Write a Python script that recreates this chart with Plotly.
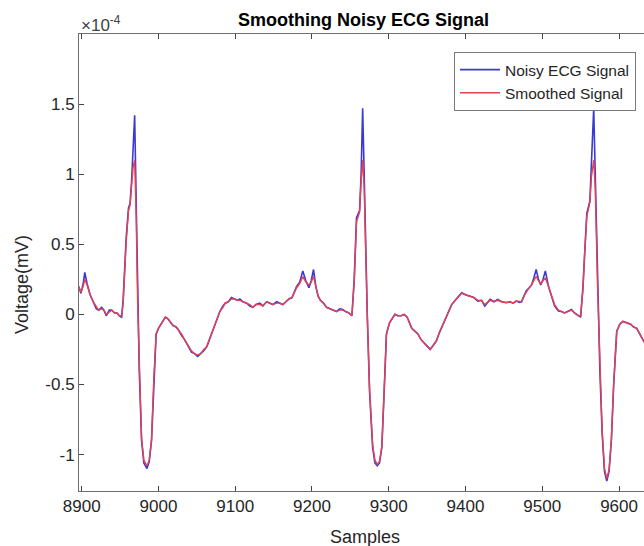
import plotly.graph_objects as go

# Samples (x) and voltages in units of 1e-4 mV
samples = [8896, 8899, 8902, 8904, 8907, 8911, 8915, 8919, 8922, 8926, 8929, 8932, 8936, 8939, 8943, 8946, 8949, 8952,
           8954, 8956, 8958, 8961, 8963, 8965, 8967, 8969, 8971, 8973, 8975, 8978, 8981, 8985, 8988, 8991, 8994, 8997,
           9000, 9003, 9006, 9009, 9012, 9016, 9019, 9023, 9026, 9030, 9034, 9038, 9043, 9047, 9051, 9055, 9059, 9063,
           9067, 9071, 9075, 9080, 9084, 9087, 9091, 9095, 9099, 9103, 9106, 9110, 9115, 9119, 9123, 9127, 9132, 9136,
           9141, 9145, 9149, 9154, 9158, 9162, 9166, 9170, 9174, 9177, 9180, 9184, 9188, 9192, 9196, 9199, 9202, 9205,
           9208, 9211, 9215, 9219, 9223, 9227, 9232, 9236, 9240, 9244, 9248, 9252, 9255, 9258, 9262, 9264, 9266, 9268,
           9270, 9272, 9275, 9279, 9282, 9285, 9288, 9291, 9294, 9297, 9301, 9305, 9308, 9312, 9316, 9320, 9324, 9327,
           9330, 9334, 9338, 9342, 9347, 9350, 9354, 9358, 9362, 9366, 9371, 9376, 9382, 9388, 9395, 9400, 9406, 9411,
           9416, 9421, 9425, 9429, 9432, 9437, 9442, 9447, 9453, 9458, 9462, 9466, 9470, 9473, 9476, 9479, 9483, 9486,
           9489, 9492, 9495, 9498, 9501, 9504, 9508, 9512, 9516, 9521, 9525, 9529, 9533, 9538, 9542, 9547, 9550, 9553,
           9555, 9558, 9562, 9564, 9567, 9569, 9572, 9575, 9578, 9581, 9584, 9587, 9590, 9593, 9597, 9601, 9605, 9610,
           9615, 9619, 9623, 9628, 9633]

noisy = [0.20, 0.15, 0.22, 0.30, 0.22, 0.14, 0.09, 0.04, 0.03, 0.05, 0.03, -0.01, 0.03, 0.03, 0.01, 0.01, -0.01, -0.02,
         0.10, 0.33, 0.55, 0.76, 0.79, 0.95, 1.20, 1.42, 0.80, 0.05, -0.40, -0.90, -1.06, -1.10, -1.05, -0.90, -0.45, -0.14,
         -0.10, -0.07, -0.04, -0.02, -0.03, -0.06, -0.08, -0.09, -0.11, -0.15, -0.18, -0.22, -0.27, -0.28, -0.30, -0.28, -0.26, -0.23,
         -0.17, -0.10, -0.04, 0.02, 0.06, 0.08, 0.09, 0.12, 0.11, 0.10, 0.11, 0.09, 0.08, 0.06, 0.05, 0.07, 0.08, 0.06,
         0.09, 0.08, 0.07, 0.09, 0.08, 0.07, 0.09, 0.11, 0.12, 0.16, 0.20, 0.23, 0.31, 0.24, 0.19, 0.24, 0.32, 0.20,
         0.13, 0.10, 0.08, 0.05, 0.04, 0.03, 0.02, 0.04, 0.035, 0.02, 0.01, -0.01, 0.25, 0.69, 0.74, 1.00, 1.47, 1.00,
         0.40, 0.00, -0.55, -0.95, -1.06, -1.08, -1.06, -0.95, -0.55, -0.14, -0.06, -0.02, 0.00, -0.01, -0.01, 0.00, -0.02, -0.06,
         -0.10, -0.12, -0.14, -0.18, -0.21, -0.23, -0.25, -0.22, -0.19, -0.13, -0.07, 0.00, 0.07, 0.11, 0.155, 0.14, 0.13, 0.12,
         0.095, 0.10, 0.06, 0.09, 0.107, 0.09, 0.107, 0.09, 0.083, 0.09, 0.08, 0.095, 0.085, 0.09, 0.13, 0.167, 0.19, 0.21,
         0.26, 0.32, 0.25, 0.21, 0.25, 0.31, 0.20, 0.13, 0.06, 0.024, 0.02, 0.01, 0.02, 0.035, 0.01, -0.01, -0.02, 0.20,
         0.45, 0.72, 0.81, 1.05, 1.47, 1.00, 0.20, -0.40, -0.85, -1.12, -1.19, -1.12, -0.90, -0.50, -0.12, -0.07, -0.05, -0.06,
         -0.07, -0.09, -0.10, -0.15, -0.20]

smoothed = [0.20, 0.16, 0.20, 0.25, 0.21, 0.14, 0.09, 0.05, 0.03, 0.04, 0.03, 0.00, 0.02, 0.03, 0.01, 0.01, -0.01, -0.01,
            0.08, 0.30, 0.52, 0.74, 0.78, 0.92, 1.05, 1.10, 0.70, 0.05, -0.38, -0.88, -1.04, -1.08, -1.04, -0.89, -0.45, -0.14,
            -0.10, -0.07, -0.04, -0.02, -0.03, -0.06, -0.08, -0.09, -0.11, -0.14, -0.18, -0.22, -0.26, -0.28, -0.29, -0.28, -0.25, -0.23,
            -0.17, -0.10, -0.04, 0.02, 0.05, 0.08, 0.09, 0.11, 0.11, 0.10, 0.10, 0.09, 0.08, 0.07, 0.05, 0.07, 0.07, 0.06,
            0.09, 0.08, 0.07, 0.08, 0.08, 0.07, 0.09, 0.11, 0.12, 0.16, 0.19, 0.22, 0.27, 0.23, 0.21, 0.23, 0.27, 0.20,
            0.13, 0.10, 0.08, 0.05, 0.04, 0.03, 0.02, 0.03, 0.03, 0.02, 0.01, -0.01, 0.23, 0.66, 0.73, 0.95, 1.10, 0.90,
            0.38, 0.00, -0.53, -0.93, -1.04, -1.07, -1.05, -0.94, -0.55, -0.14, -0.06, -0.02, 0.00, -0.01, -0.01, 0.00, -0.02, -0.06,
            -0.10, -0.12, -0.14, -0.18, -0.21, -0.23, -0.25, -0.22, -0.19, -0.13, -0.07, 0.00, 0.07, 0.11, 0.15, 0.14, 0.13, 0.12,
            0.10, 0.10, 0.07, 0.09, 0.10, 0.09, 0.10, 0.09, 0.085, 0.09, 0.08, 0.095, 0.09, 0.09, 0.13, 0.16, 0.19, 0.21,
            0.24, 0.27, 0.24, 0.22, 0.24, 0.26, 0.20, 0.13, 0.07, 0.03, 0.02, 0.01, 0.02, 0.03, 0.01, -0.01, -0.01, 0.18,
            0.42, 0.70, 0.80, 0.98, 1.10, 0.90, 0.20, -0.38, -0.83, -1.10, -1.17, -1.11, -0.89, -0.50, -0.12, -0.07, -0.05, -0.06,
            -0.07, -0.09, -0.10, -0.15, -0.20]

x_ticks = [8900, 9000, 9100, 9200, 9300, 9400, 9500, 9600]
y_ticks = [-1, -0.5, 0, 0.5, 1, 1.5]
y_tick_labels = ["-1", "-0.5", "0", "0.5", "1", "1.5"]

FONT = "Liberation Sans, Arial, sans-serif"
TXT = "#262626"

fig = go.Figure()
fig.add_trace(go.Scatter(x=samples, y=noisy, mode="lines", name="Noisy ECG Signal",
                         line=dict(color="#3a3ad2", width=1.6)))
fig.add_trace(go.Scatter(x=samples, y=smoothed, mode="lines", name="Smoothed Signal",
                         line=dict(color="#e8404f", width=1.4)))

L, T, B = 79, 34, 55
W, H = 644, 546
pw = W - L
ph = H - T - B

fig.update_layout(
    width=W, height=H,
    margin=dict(l=L, r=0, t=T, b=B),
    paper_bgcolor="white", plot_bgcolor="white",
    font=dict(family=FONT, color=TXT, size=16),
    showlegend=True,
    legend=dict(x=(454 - L) / pw, y=(H - B - 52) / ph, xanchor="left", yanchor="top",
                bgcolor="white", bordercolor="#7a7a7a", borderwidth=1,
                font=dict(size=15.5, color=TXT), itemwidth=40, tracegroupgap=0),
    xaxis=dict(range=[8896.5, 9632.5], tickvals=x_ticks, ticks="inside", ticklen=5,
               showline=True, linecolor="#6e6e6e", linewidth=1, mirror="ticks",
               showgrid=False, zeroline=False, tickfont=dict(size=17, color=TXT)),
    yaxis=dict(range=[-1.26, 2.0], tickvals=y_ticks, ticktext=y_tick_labels, ticks="inside", ticklen=5,
               showline=True, linecolor="#6e6e6e", linewidth=1, mirror=False,
               showgrid=False, zeroline=False, tickfont=dict(size=17, color=TXT)),
    annotations=[
        dict(text="<b>Smoothing Noisy ECG Signal</b>", xref="paper", yref="paper",
             x=(363.5 - L) / pw, y=1 + (T - 20) / ph, xanchor="center", yanchor="middle",
             showarrow=False, font=dict(size=18, color="black")),
        dict(text="×10<sup>-4</sup>", xref="paper", yref="paper",
             x=0, y=1 + (T - 24) / ph, xanchor="left", yanchor="middle",
             showarrow=False, font=dict(size=17, color="#404040")),
        dict(text="Samples", xref="paper", yref="paper",
             x=(365 - L) / pw, y=-(537 - (H - B)) / ph, xanchor="center", yanchor="middle",
             showarrow=False, font=dict(size=18, color=TXT)),
        dict(text="Voltage(mV)", xref="paper", yref="paper",
             x=-(L - 22) / pw, y=(H - B - 285) / ph, xanchor="center", yanchor="middle",
             textangle=-90, showarrow=False, font=dict(size=18, color=TXT)),
    ],
)

fig.write_html("out.html")
